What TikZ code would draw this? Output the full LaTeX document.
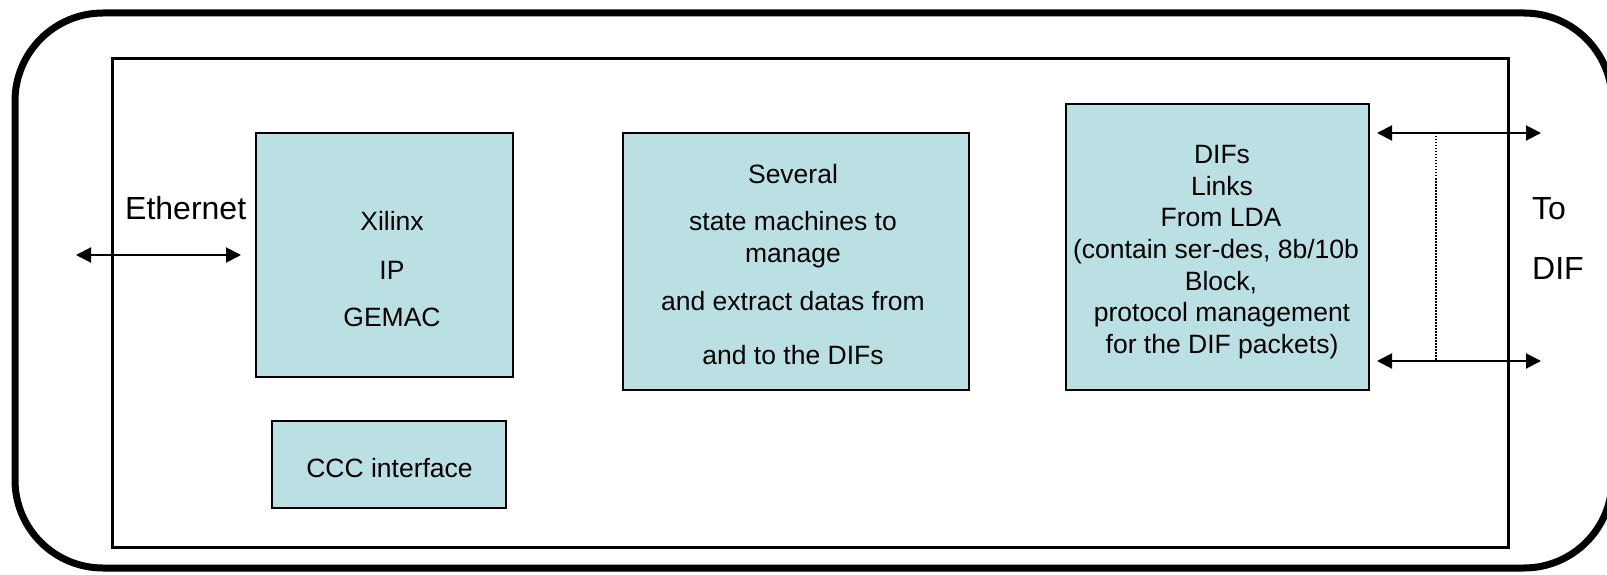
\documentclass[tikz,border=0pt]{standalone}
\usepackage{fontspec}
\setmainfont{Liberation Sans}
\usetikzlibrary{arrows.meta}
\definecolor{boxblue}{RGB}{187,224,227}
\begin{document}
\begin{tikzpicture}[x=1pt,y=-1pt,
  frame/.style={draw=black, rectangle, inner sep=0pt, outer sep=0pt},
  box/.style={draw=black, line width=1.5pt, fill=boxblue, rectangle, inner sep=0pt, outer sep=0pt},
  lbl/.style={anchor=base, inner sep=0pt, font=\fontsize{26.5}{31.5}\selectfont},
  big/.style={anchor=base west, inner sep=0pt, font=\fontsize{32}{38}\selectfont},
  link/.style={line width=2pt, {Triangle[length=15pt,width=15pt]}-{Triangle[length=15pt,width=15pt]}},
  guide/.style={line width=1.5pt, dash pattern=on 1.5pt off 1.5pt}]
\clip (0,0) rectangle (1607,575);
% frames
\node[frame, line width=7pt, rounded corners=88pt, minimum width=1597pt, minimum height=555pt] (outer) at (813.5,290.5) {};
\node[frame, line width=3pt, minimum width=1396pt, minimum height=488pt] (inner) at (810,303) {};
% boxes
\node[box, minimum width=257pt, minimum height=244pt] (xil) at (384.5,255) {};
\node[box, minimum width=234pt, minimum height=87pt] (ccc) at (389,464.5) {};
\node[box, minimum width=346pt, minimum height=257pt] (mid) at (796,261.5) {};
\node[box, minimum width=303pt, minimum height=286pt] (dif) at (1217.5,247) {};
% box texts
\node[lbl] (xil1) at (392,230) {Xilinx};
\node[lbl] (xil2) at (392,279) {IP};
\node[lbl] (xil3) at (392,326) {GEMAC};
\node[lbl] (ccc1) at (389.5,477) {CCC interface};
\node[lbl] (mid1) at (793,183) {Several};
\node[lbl] (mid2) at (793,230) {state machines to};
\node[lbl] (mid3) at (793,262) {manage};
\node[lbl] (mid4) at (793,310) {and extract datas from};
\node[lbl] (mid5) at (793,364) {and to the DIFs};
\foreach \i/\x/\y/\t in {1/1222/164/DIFs, 2/1222/195/Links, 3/1221/226.5/From LDA, 4/1216/258/{(contain ser-des, 8b/10b}, 5/1221/290/{Block,}, 6/1222/321.5/protocol management, 7/1222/353/for the DIF packets)}
  \node[lbl] (dif\i) at (\x,\y) {\t};
% outside labels
\node[big] (eth) at (125,219) {Ethernet};
\node[big] (to) at (1532,219) {To};
\node[big] (todif) at (1532,279) {DIF};
% connectors
\coordinate (ethL) at (76,255);
\coordinate (ethR) at (241,255);
\draw[link] (ethL) -- (ethR);
\coordinate (tA) at (1377,133);
\coordinate (tB) at (1541,133);
\coordinate (bA) at (1377,361);
\coordinate (bB) at (1541,361);
\draw[link] (tA) -- (tB);
\draw[link] (bA) -- (bB);
\coordinate (dA) at (1436,133);
\coordinate (dB) at (1436,361);
\draw[guide] (dA) -- (dB);
\end{tikzpicture}
\end{document}
